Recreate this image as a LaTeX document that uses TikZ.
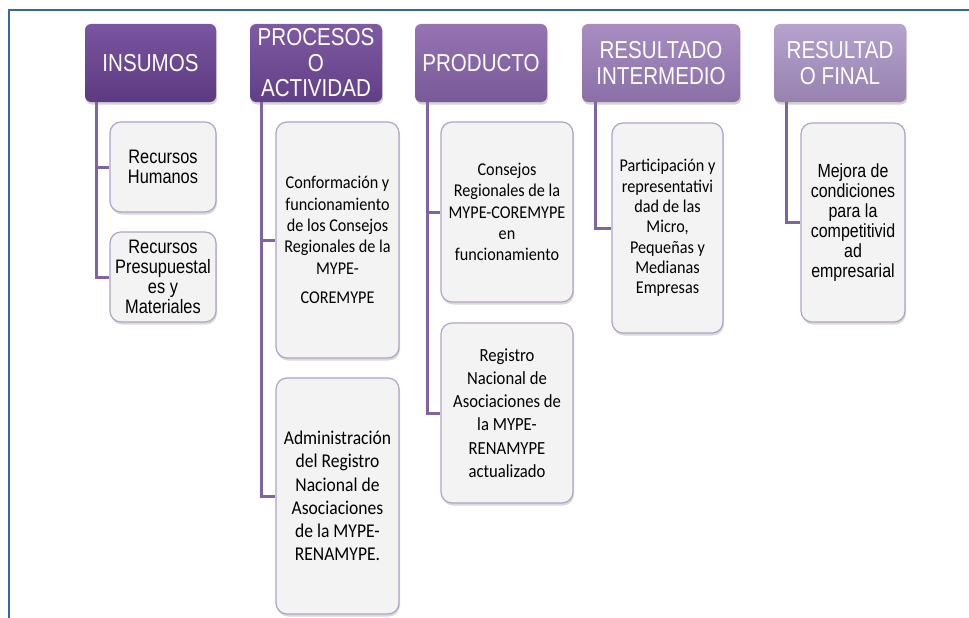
\documentclass[tikz,border=0pt]{standalone}
\usepackage{fontspec}
\setmainfont{Liberation Sans}[FakeStretch=0.84]
\newfontfamily\calfont{Carlito}[FakeStretch=0.9]
\usetikzlibrary{shadows}

\definecolor{frameblue}{HTML}{3A66A0}
\definecolor{linepurple}{HTML}{8064A2}
\definecolor{boxedge}{HTML}{B3A2C8}
\definecolor{boxfill}{HTML}{F3F3F3}
% header shades, top and bottom
\definecolor{insT}{HTML}{7B55A0}\definecolor{insB}{HTML}{5C3A80}
\definecolor{proT}{HTML}{7E5AA3}\definecolor{proB}{HTML}{613F86}
\definecolor{prdT}{HTML}{9674B4}\definecolor{prdB}{HTML}{795998}
\definecolor{rinT}{HTML}{A88DC3}\definecolor{rinB}{HTML}{8B70A7}
\definecolor{rfiT}{HTML}{B5A2CD}\definecolor{rfiB}{HTML}{9782B0}

\tikzset{
  header/.style 2 args={rounded corners=6pt, top color=#1, bottom color=#2,
    text=white, align=center, minimum height=78pt, inner sep=1pt,
    drop shadow={shadow xshift=1pt, shadow yshift=-2.5pt, opacity=0.35},
    font=\fontsize{24.5}{25.5}\selectfont},
  leaf/.style={rounded corners=11pt, draw=boxedge, line width=1.2pt, fill=boxfill,
    align=center, inner sep=1pt,
    drop shadow={shadow xshift=1pt, shadow yshift=-2.5pt, opacity=0.3}},
  branch/.style={draw=linepurple, line width=3pt},
}

\begin{document}
\begin{tikzpicture}[x=1pt, y=-1pt]
\useasboundingbox (0,0) rectangle (969,618);
% frame
\draw[frameblue, line width=2pt] (9,618) -- (9,10) -- (969,10);

% headers
\node[header={insT}{insB}, minimum width=131pt] (ins) at (150.5,63) {INSUMOS};
\node[header={proT}{proB}, minimum width=132pt] (pro) at (316,63) {PROCESOS\\O\\ACTIVIDAD};
\node[header={prdT}{prdB}, minimum width=132pt] (prd) at (481,63) {PRODUCTO};
\node[header={rinT}{rinB}, minimum width=158pt] (rin) at (661,63) {RESULTADO\\INTERMEDIO};
\node[header={rfiT}{rfiB}, minimum width=132pt] (rfi) at (840,63) {RESULTAD\\O FINAL};

% insumos
\node[leaf, minimum width=106pt, minimum height=90pt, font=\fontsize{19.5}{20}\selectfont]
  (hum) at (163,167) {Recursos\\Humanos};
\node[leaf, minimum width=106pt, minimum height=90pt, font=\fontsize{19.5}{20}\selectfont]
  (pre) at (163,277) {Recursos\\Presupuestal\\es y\\Materiales};

% procesos
\node[leaf, minimum width=123pt, minimum height=236pt, font=\calfont\fontsize{18}{21.3}\selectfont]
  (con) at (337.5,240) {Conformación y\\funcionamiento\\de los Consejos\\Regionales de la\\MYPE-\\[8pt]COREMYPE};
\node[leaf, minimum width=123pt, minimum height=236pt, font=\calfont\fontsize{19.5}{23.3}\selectfont]
  (adm) at (337.5,496) {Administración\\del Registro\\Nacional de\\Asociaciones\\de la MYPE-\\RENAMYPE.};

% productos
\node[leaf, minimum width=132pt, minimum height=180pt, font=\calfont\fontsize{18}{21.3}\selectfont]
  (cns) at (507,212) {Consejos\\Regionales de la\\MYPE-COREMYPE\\en\\funcionamiento};
\node[leaf, minimum width=132pt, minimum height=180pt, font=\calfont\fontsize{18.5}{23.3}\selectfont]
  (reg) at (507,413) {Registro\\Nacional de\\Asociaciones de\\la MYPE-\\RENAMYPE\\actualizado};

% resultados
\node[leaf, minimum width=111pt, minimum height=210pt, font=\calfont\fontsize{18}{20.3}\selectfont]
  (par) at (667.5,228) {Participación y\\representativi\\dad de las\\Micro,\\Pequeñas y\\Medianas\\Empresas};
\node[leaf, minimum width=104pt, minimum height=199pt, font=\fontsize{19}{20}\selectfont]
  (mej) at (853,222.5) {Mejora de\\condiciones\\para la\\competitivid\\ad\\empresarial};

% branches
\draw[branch] ([xshift=12pt]ins.south west) |- (hum.west);
\draw[branch] ([xshift=12pt]ins.south west) |- (pre.west);
\draw[branch] ([xshift=12pt]pro.south west) |- (con.west);
\draw[branch] ([xshift=12pt]pro.south west) |- (adm.west);
\draw[branch] ([xshift=13pt]prd.south west) |- (cns.west);
\draw[branch] ([xshift=13pt]prd.south west) |- (reg.west);
\draw[branch] ([xshift=14pt]rin.south west) |- (par.west);
\draw[branch] ([xshift=13pt]rfi.south west) |- (mej.west);
\end{tikzpicture}
\end{document}
